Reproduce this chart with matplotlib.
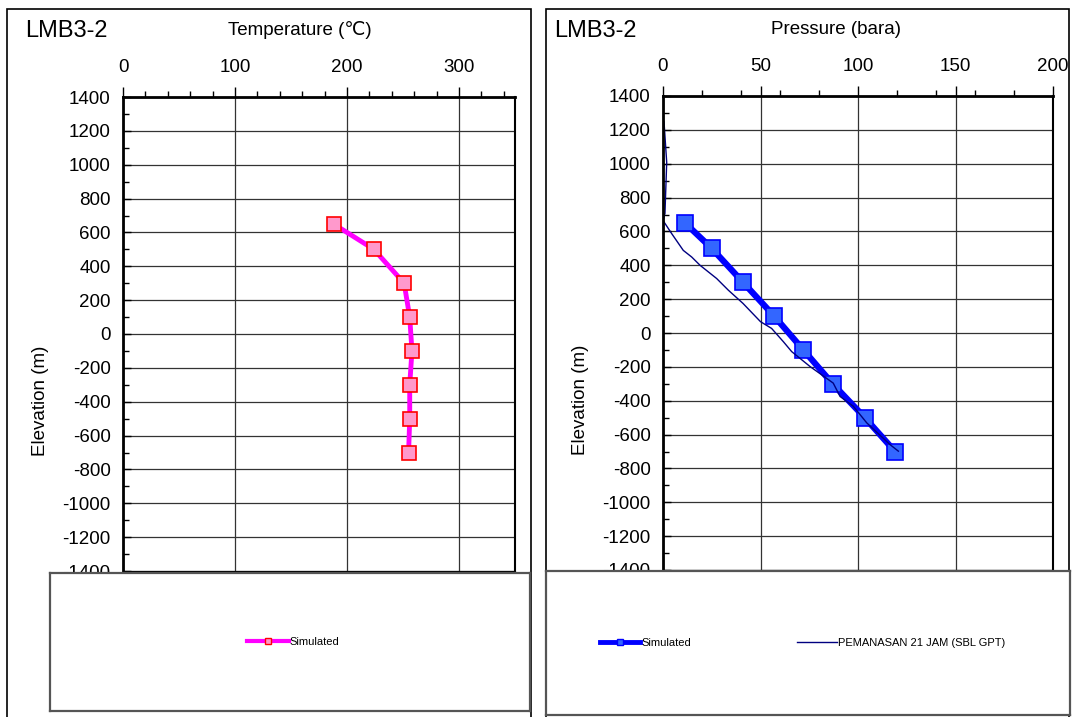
import numpy as np
import matplotlib.pyplot as plt
from matplotlib.lines import Line2D
from matplotlib.patches import Rectangle
from matplotlib.ticker import MultipleLocator

plt.rcParams['font.family'] = ['Liberation Sans', 'DejaVu Sans']
plt.rcParams['axes.unicode_minus'] = False

# simulated profiles (LMB3-2)
sim_elev = [650, 500, 300, 100, -100, -300, -500, -700]
sim_temp = [188, 224, 251, 256, 258, 256, 256, 255]
sim_pres = [11.3, 25, 41, 57, 72, 87, 103.5, 119]

# measured pressure, PEMANASAN 21 JAM (SBL GPT)
meas_elev = [1250, 1008, 706, 665, 588, 488, 449, 400, 322, 253, 175, 67, 27,
             -51, -110, -198, -296, -375, -433, -531, -659, -698]
meas_pres = [0.5, 1.9, 1.0, 0.0, 4.4, 10.4, 14.7, 19.0, 27.5, 33.5, 41.0, 50.0,
             55.7, 61.7, 66.0, 75.4, 87.3, 90.8, 97.6, 104.5, 116.4, 120.7]

W, H = 1075, 717
fig = plt.figure(figsize=(W / 100, H / 100), dpi=100)


def px(x0, y0, x1, y1):
    # pixel box -> figure fraction [left, bottom, width, height]
    return [x0 / W, 1 - y1 / H, (x1 - x0) / W, (y1 - y0) / H]


def setup(ax, xmax, xmajor, xlabel, xlab_pos):
    ax.set_xlim(0, xmax)
    ax.set_ylim(-1400, 1400)
    ax.xaxis.set_major_locator(MultipleLocator(xmajor))
    ax.xaxis.set_minor_locator(MultipleLocator(20))
    ax.yaxis.set_major_locator(MultipleLocator(200))
    ax.yaxis.set_minor_locator(MultipleLocator(100))
    ax.xaxis.tick_top()
    ax.xaxis.set_label_position('top')
    ax.tick_params(axis='x', which='both', direction='out', labelsize=13.5, pad=8)
    ax.tick_params(axis='x', which='major', length=7, width=1)
    ax.tick_params(axis='x', which='minor', length=4, width=1)
    ax.tick_params(axis='y', which='both', direction='in', labelsize=13.5, pad=9)
    ax.tick_params(axis='y', which='major', length=6, width=1)
    ax.tick_params(axis='y', which='minor', length=4, width=1)
    ax.grid(True, which='major', color='#333333', linewidth=0.9)
    ax.set_axisbelow(True)
    ax.spines['left'].set_linewidth(2)
    ax.spines['top'].set_linewidth(2)
    ax.spines['right'].set_linewidth(1.5)
    ax.set_xlabel(xlabel, fontsize=13.5)
    ax.xaxis.set_label_coords(xlab_pos, 1 + 62 / 474)
    ax.set_ylabel('Elevation (m)', fontsize=13.5)
    ax.yaxis.set_label_coords(-0.19, 0.36)


# outer frames
for x0, x1 in [(7, 531), (546, 1069)]:
    fig.patches.append(Rectangle((x0 / W, -0.01), (x1 - x0) / W, 1 - 9 / H + 0.01,
                                 transform=fig.transFigure, fill=False,
                                 edgecolor='black', linewidth=1.2))

# temperature panel
ax1 = fig.add_axes(px(123, 97, 515, 571))
setup(ax1, 350, 100, 'Temperature (\u2103)', 0.452)
ax1.plot(sim_temp, sim_elev, color='#FF00FF', linewidth=3.5, marker='s',
         markersize=10, markerfacecolor='#FF99CC', markeredgecolor='#FF0000',
         markeredgewidth=1.2)
fig.text(25 / W, 1 - 31 / H, 'LMB3-2', fontsize=17, va='center', ha='left')

# pressure panel
ax2 = fig.add_axes(px(663, 96, 1053, 570))
setup(ax2, 200, 50, 'Pressure (bara)', 0.444)
ax2.plot(sim_pres, sim_elev, color='#0000FF', linewidth=4.5, marker='s',
         markersize=11, markerfacecolor='#3366FF', markeredgecolor='#0000FF',
         markeredgewidth=1.2)
ax2.plot(meas_pres, meas_elev, color='#000080', linewidth=1)
fig.text(554 / W, 1 - 31 / H, 'LMB3-2', fontsize=17, va='center', ha='left')

# legend boxes
lg1 = fig.add_axes(px(50, 573, 530, 711), zorder=5)
lg2 = fig.add_axes(px(546, 571, 1070, 715), zorder=5)
for lg in (lg1, lg2):
    lg.set_xticks([])
    lg.set_yticks([])
    lg.set_facecolor('white')
    for s in lg.spines.values():
        s.set_color('#555555')
        s.set_linewidth(1.6)

h_temp = Line2D([], [], color='#FF00FF', linewidth=3, marker='s', markersize=4,
                markerfacecolor='#FF99CC', markeredgecolor='#FF0000')
lg1.legend([h_temp], ['Simulated'], loc='center', frameon=False, fontsize=8,
           handlelength=3.8, handletextpad=0.05, bbox_to_anchor=(0.507, 0.5))

h_sim = Line2D([], [], color='#0000FF', linewidth=3.5, marker='s', markersize=4,
               markerfacecolor='#3366FF', markeredgecolor='#0000FF')
h_meas = Line2D([], [], color='#000080', linewidth=1)
lg2.legend([h_sim, h_meas], ['Simulated', 'PEMANASAN 21 JAM (SBL GPT)'],
           loc='center', frameon=False, fontsize=8, ncol=2, handlelength=3.6,
           handletextpad=0.1, columnspacing=9.5, bbox_to_anchor=(0.49, 0.5))

fig.savefig('out.png', dpi=100)
